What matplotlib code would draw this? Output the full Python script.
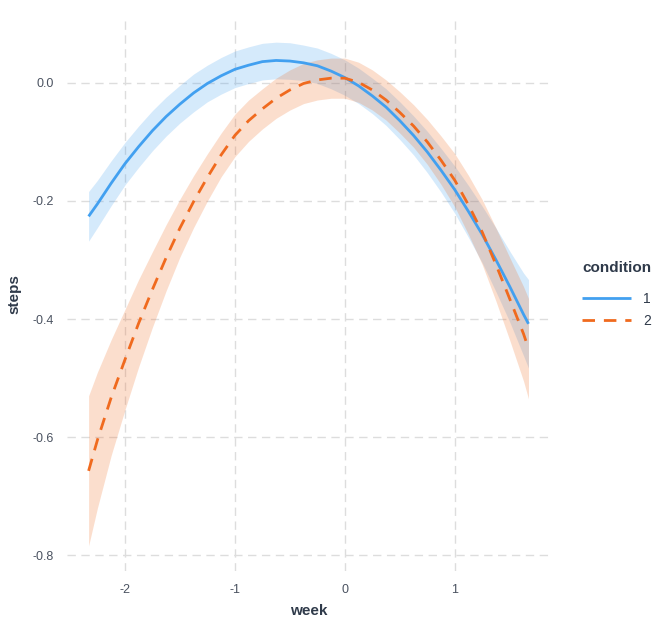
import numpy as np
import matplotlib.pyplot as plt

plt.rcParams['font.family'] = ['Liberation Sans', 'DejaVu Sans']
plt.rcParams['axes.unicode_minus'] = False

# values (week vs fitted steps, ribbon half widths)
week = [-2.33, -2.25, -2.125, -2.0, -1.875, -1.75, -1.625, -1.5, -1.375,
        -1.25, -1.125, -1.0, -0.875, -0.75, -0.625, -0.5, -0.375, -0.25,
        -0.125, 0.0, 0.125, 0.25, 0.375, 0.5, 0.625, 0.75, 0.875, 1.0,
        1.125, 1.25, 1.375, 1.5, 1.625, 1.67]

steps1 = [-0.226, -0.205, -0.170, -0.137, -0.108, -0.081, -0.057, -0.036, -0.017,
          -0.001, 0.012, 0.023, 0.030, 0.036, 0.038, 0.037, 0.034, 0.029,
          0.020, 0.009, -0.005, -0.022, -0.041, -0.064, -0.089, -0.117, -0.148, -0.181,
          -0.218, -0.257, -0.300, -0.345, -0.392, -0.408]
band1 = [0.042, 0.040, 0.038, 0.036, 0.035, 0.034, 0.033, 0.032, 0.032,
         0.031, 0.031, 0.031, 0.031, 0.031, 0.031, 0.031, 0.030, 0.030,
         0.030, 0.030, 0.030, 0.030, 0.031, 0.032, 0.033, 0.035, 0.037, 0.040,
         0.044, 0.048, 0.054, 0.060, 0.070, 0.075]

steps2 = [-0.657, -0.605, -0.533, -0.469, -0.407, -0.350, -0.296, -0.246, -0.201,
          -0.160, -0.122, -0.089, -0.064, -0.044, -0.026, -0.012, -0.001, 0.005,
          0.008, 0.008, 0.001, -0.012, -0.029, -0.050, -0.073, -0.100, -0.131, -0.165,
          -0.207, -0.253, -0.308, -0.366, -0.425, -0.450]
band2 = [0.127, 0.115, 0.098, 0.085, 0.074, 0.064, 0.056, 0.049, 0.044,
         0.040, 0.037, 0.036, 0.035, 0.034, 0.034, 0.034, 0.034, 0.034,
         0.034, 0.034, 0.034, 0.034, 0.034, 0.035, 0.036, 0.038, 0.041, 0.045,
         0.050, 0.055, 0.062, 0.070, 0.080, 0.085]

xticks = [-2, -1, 0, 1]
yticks = [-0.8, -0.6, -0.4, -0.2, 0.0]

blue = '#42A0F0'
orange = '#F06A1E'
textcol = '#2F3A4A'

w = np.array(week)
s1, b1 = np.array(steps1), np.array(band1)
s2, b2 = np.array(steps2), np.array(band2)

fig = plt.figure(figsize=(6.53, 6.17), dpi=100)
ax = fig.add_axes([0.102, 0.0745, 0.741, 0.898])

ax.fill_between(w, s1 - b1, s1 + b1, color=blue, alpha=0.22, lw=0)
ax.plot(w, s1, color=blue, lw=2.0, label='1', solid_capstyle='butt')
ax.fill_between(w, s2 - b2, s2 + b2, color=orange, alpha=0.22, lw=0)
ax.plot(w, s2, color=orange, lw=2.0, ls=(0, (4.5, 3.2)), label='2')

# ggplot-style 5% expansion
xr = w.max() - w.min()
ax.set_xlim(w.min() - 0.05 * xr, w.max() + 0.05 * xr)
ylo, yhi = (s2 - b2).min(), (s1 + b1).max()
ax.set_ylim(ylo - 0.05 * (yhi - ylo), yhi + 0.05 * (yhi - ylo))

ax.set_xticks(xticks)
ax.set_yticks(yticks)
ax.set_xticklabels([str(t) for t in xticks])
ax.set_yticklabels(['{:.1f}'.format(t) for t in yticks])
ax.tick_params(length=0, labelsize=9, labelcolor='#4A5260', pad=9)
ax.grid(True, color='#DDDDDD', ls=(0, (6, 4)), lw=1.0)
ax.set_axisbelow(True)
for s in ax.spines.values():
    s.set_visible(False)

ax.set_xlabel('week', fontsize=11, fontweight='bold', color=textcol, labelpad=6)
ax.set_ylabel('steps', fontsize=11, fontweight='bold', color=textcol, labelpad=8)

leg = ax.legend(title='condition', loc='center left', bbox_to_anchor=(1.04, 0.5),
                frameon=False, fontsize=10, handlelength=3.5, handletextpad=0.9,
                labelspacing=0.55, alignment='left')
leg._legend_box.sep = 12.5
leg.get_title().set_fontweight('bold')
leg.get_title().set_fontsize(11)
leg.get_title().set_color(textcol)
for t in leg.get_texts():
    t.set_color(textcol)

fig.savefig('out.png', dpi=100)
